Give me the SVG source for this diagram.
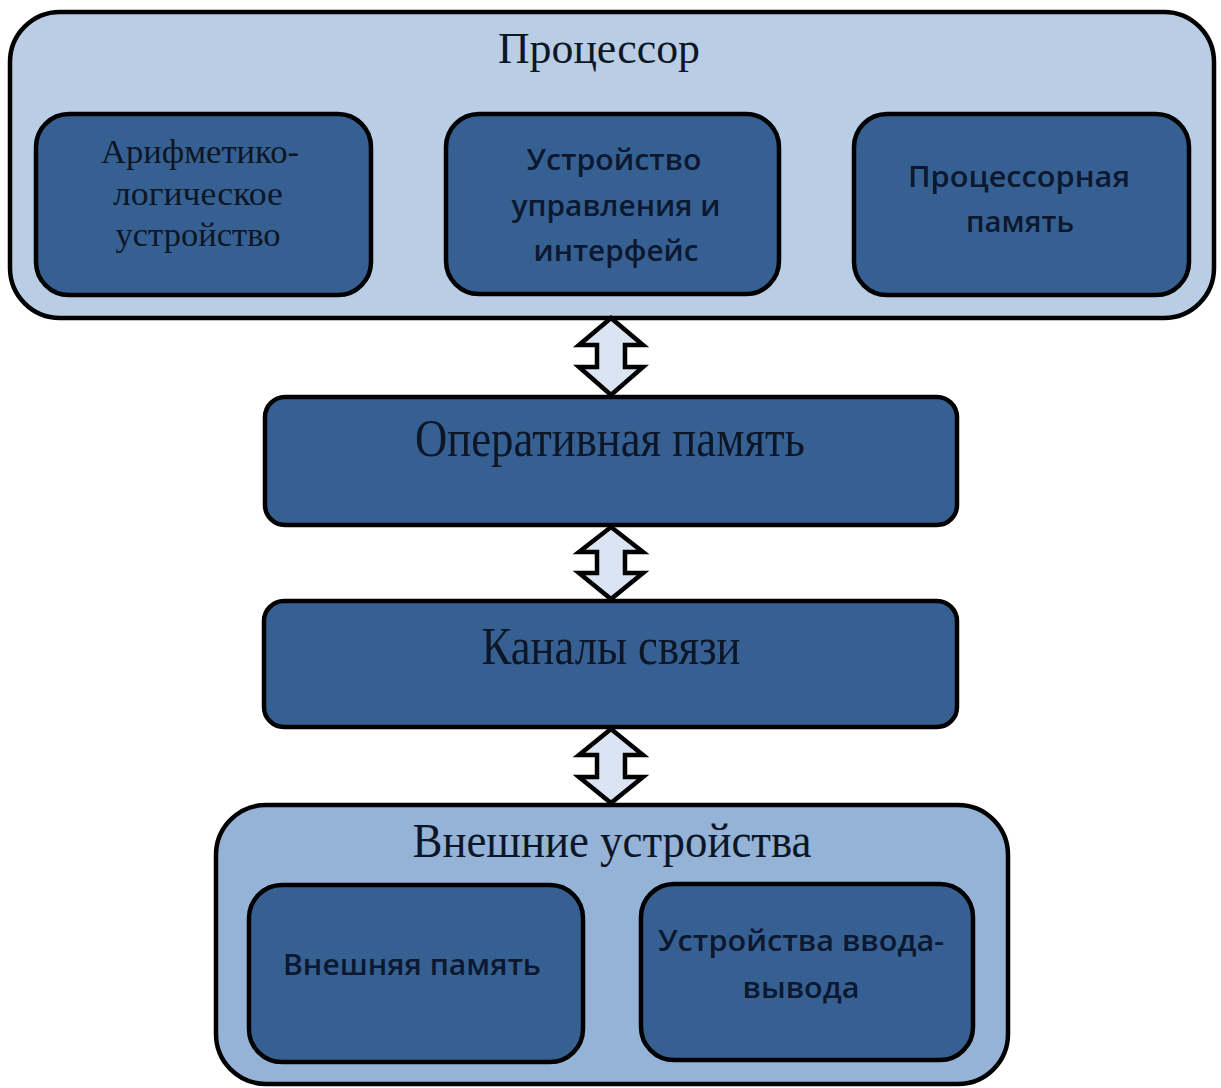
<svg xmlns="http://www.w3.org/2000/svg" width="1221" height="1088" viewBox="0 0 1221 1088">
<style>
.outerP{fill:#b9cde5;stroke:#000;stroke-width:4.5}
.outerE{fill:#95b3d7;stroke:#000;stroke-width:4.5}
.inner{fill:#376092;stroke:#000;stroke-width:4.5}
.serif{font-family:"Liberation Serif","Times New Roman",serif;fill:#0d1626;text-anchor:middle}
.sans{font-family:"Open Sans","Liberation Sans",sans-serif;font-weight:600;fill:#0b1830;text-anchor:middle}
.arrow{fill:#dbe4f2;stroke:#000;stroke-width:4.5;stroke-linejoin:miter}
</style>
<rect x="0" y="0" width="1221" height="1088" fill="#ffffff"/>
<g id="processor">
<rect class="outerP" x="10" y="12" width="1204" height="306" rx="50" ry="50"/>
<text class="serif" x="599" y="63" font-size="45" textLength="202" lengthAdjust="spacingAndGlyphs">Процессор</text>
</g>
<g id="alu">
<rect class="inner" x="36" y="114" width="335" height="181" rx="33" ry="33"/>
<text class="serif" x="200" y="163" font-size="33" textLength="198" lengthAdjust="spacingAndGlyphs">Арифметико-</text>
<text class="serif" x="198" y="205" font-size="33" textLength="170" lengthAdjust="spacingAndGlyphs">логическое</text>
<text class="serif" x="198" y="246" font-size="33" textLength="165" lengthAdjust="spacingAndGlyphs">устройство</text>
</g>
<g id="control">
<rect class="inner" x="446" y="114" width="333" height="180" rx="33" ry="33"/>
<text class="sans" x="614" y="170" font-size="28" textLength="175" lengthAdjust="spacingAndGlyphs">Устройство</text>
<text class="sans" x="616" y="216" font-size="28" textLength="209" lengthAdjust="spacingAndGlyphs">управления и</text>
<text class="sans" x="616" y="261" font-size="28" textLength="165" lengthAdjust="spacingAndGlyphs">интерфейс</text>
</g>
<g id="procmem">
<rect class="inner" x="854" y="114" width="335" height="181" rx="33" ry="33"/>
<text class="sans" x="1019" y="187" font-size="28" textLength="222" lengthAdjust="spacingAndGlyphs">Процессорная</text>
<text class="sans" x="1020" y="232" font-size="28" textLength="108" lengthAdjust="spacingAndGlyphs">память</text>
</g>
<g id="ram">
<rect class="inner" x="265" y="397" width="692" height="128" rx="20" ry="20"/>
<text class="serif" x="610" y="456" font-size="53" textLength="390" lengthAdjust="spacingAndGlyphs">Оперативная память</text>
</g>
<g id="channels">
<rect class="inner" x="264" y="601" width="693" height="126" rx="20" ry="20"/>
<text class="serif" x="611" y="664" font-size="53" textLength="259" lengthAdjust="spacingAndGlyphs">Каналы связи</text>
</g>
<g id="external">
<rect class="outerE" x="216" y="805" width="792" height="279" rx="50" ry="50"/>
<text class="serif" x="612" y="857" font-size="48" textLength="399" lengthAdjust="spacingAndGlyphs">Внешние устройства</text>
</g>
<g id="extmem">
<rect class="inner" x="249" y="885" width="334" height="177" rx="33" ry="33"/>
<text class="sans" x="412" y="975" font-size="28" textLength="258" lengthAdjust="spacingAndGlyphs">Внешняя память</text>
</g>
<g id="io">
<rect class="inner" x="641" y="884" width="332" height="176" rx="33" ry="33"/>
<text class="sans" x="801" y="951" font-size="28" textLength="286" lengthAdjust="spacingAndGlyphs">Устройства ввода-</text>
<text class="sans" x="801" y="998" font-size="28" textLength="117" lengthAdjust="spacingAndGlyphs">вывода</text>
</g>
<g id="connectors">
<path class="arrow" d="M611,318 L643,345 L625,345 L625,367 L643,367 L611,395 L579,367 L597,367 L597,345 L579,345 Z"/>
<path class="arrow" d="M611,527 L643,552 L625,552 L625,573 L643,573 L611,599 L579,573 L597,573 L597,552 L579,552 Z"/>
<path class="arrow" d="M611,729 L643,755 L625,755 L625,777 L643,777 L611,803 L579,777 L597,777 L597,755 L579,755 Z"/>
</g>
</svg>
